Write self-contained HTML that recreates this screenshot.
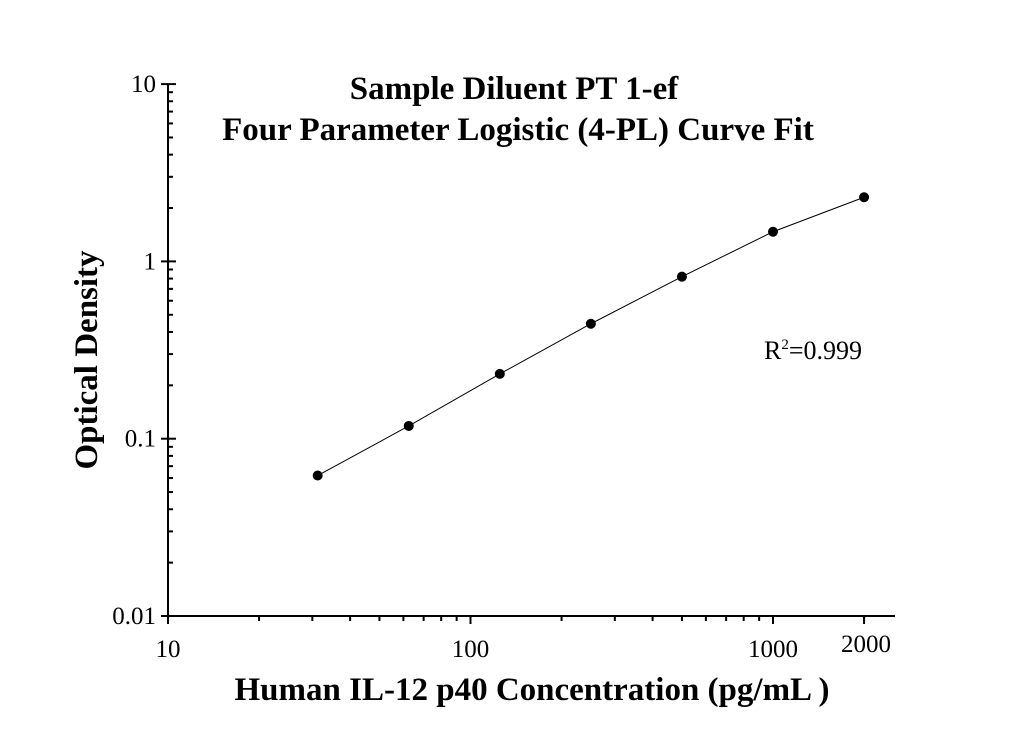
<!DOCTYPE html>
<html><head><meta charset="utf-8"><style>
body{margin:0;background:#fff;}
svg text{font-family:"Liberation Serif",serif;fill:#000;}
</style></head><body>
<svg id="chart" width="1036" height="728" viewBox="0 0 1036 728" xmlns="http://www.w3.org/2000/svg">
<rect width="1036" height="728" fill="#fff"/>
<text x="514" y="99" text-anchor="middle" font-size="33" font-weight="bold">Sample Diluent PT 1-ef</text>
<text x="518" y="140" text-anchor="middle" font-size="33" font-weight="bold">Four Parameter Logistic (4-PL) Curve Fit</text>
<text x="532" y="700" text-anchor="middle" font-size="33" font-weight="bold">Human IL-12 p40 Concentration (pg/mL )</text>
<text transform="translate(97,360) rotate(-90)" text-anchor="middle" font-size="33" font-weight="bold">Optical Density</text>
<text x="764" y="359" font-size="26">R<tspan font-size="15" dy="-10">2</tspan><tspan dy="10">=0.999</tspan></text>
<g id="axes"></g>
<g id="plot"></g>
</svg>
<script>
const concentrations=[31.25,62.5,125,250,500,1000,2000];
const odValues=[0.062,0.118,0.232,0.445,0.82,1.47,2.3];
const xTickLabels=["10","100","1000","2000"];
const xTickValues=[10,100,1000,2000];
const yTickLabels=["0.01","0.1","1","10"];
const yTickValues=[0.01,0.1,1,10];
const NS="http://www.w3.org/2000/svg";
const X0=168,XD=302.5,Y0=616,YD=177.3,XR=895;
function xs(v){return X0+(Math.log10(v)-1)*XD;}
function ys(v){return Y0-(Math.log10(v)+2)*YD;}
function mk(t,a,p){const e=document.createElementNS(NS,t);for(const k in a)e.setAttribute(k,a[k]);p.appendChild(e);return e;}
const ax=document.getElementById('axes'),pl=document.getElementById('plot');
const yl=mk('line',{x1:X0,y1:ys(10),x2:X0,y2:Y0,stroke:'#000','stroke-width':2},ax);


const xl=mk('line',{x1:X0-7,y1:Y0,x2:XR,y2:Y0,stroke:'#000','stroke-width':2},ax);


for(let d=-2;d<1;d++){for(let m=2;m<10;m++){const y=ys(m*Math.pow(10,d));mk('line',{x1:X0,y1:y,x2:X0+5,y2:y,stroke:'#000','stroke-width':2},ax);}}
yTickValues.forEach((v,i)=>{const y=ys(v);mk('line',{x1:X0-7,y1:y,x2:X0+8,y2:y,stroke:'#000','stroke-width':2},ax);
const t=mk('text',{x:X0-12,y:y+8,'text-anchor':'end','font-size':25},ax);t.textContent=yTickLabels[i];

});
for(let d=1;d<4;d++){for(let m=2;m<10;m++){const v=m*Math.pow(10,d);if(xs(v)>XR)break;const x=xs(v);mk('line',{x1:x,y1:Y0,x2:x,y2:Y0+5,stroke:'#000','stroke-width':2},ax);}}
xTickValues.forEach((v,i)=>{const x=xs(v);mk('line',{x1:x,y1:Y0,x2:x,y2:Y0+8,stroke:'#000','stroke-width':2},ax);
const t=mk('text',{x:x+(v===2000?2:0),y:v===2000?652:657,'text-anchor':'middle','font-size':25},ax);t.textContent=xTickLabels[i];

});
let d='';concentrations.forEach((c,i)=>{d+=(i?'L':'M')+xs(c)+','+ys(odValues[i]);});
const ln=mk('path',{d:d,fill:'none',stroke:'#000','stroke-width':1},pl);


concentrations.forEach((c,i)=>{const p=mk('circle',{cx:xs(c),cy:ys(odValues[i]),r:5,fill:'#000'},pl);

});
</script>
</body></html>
